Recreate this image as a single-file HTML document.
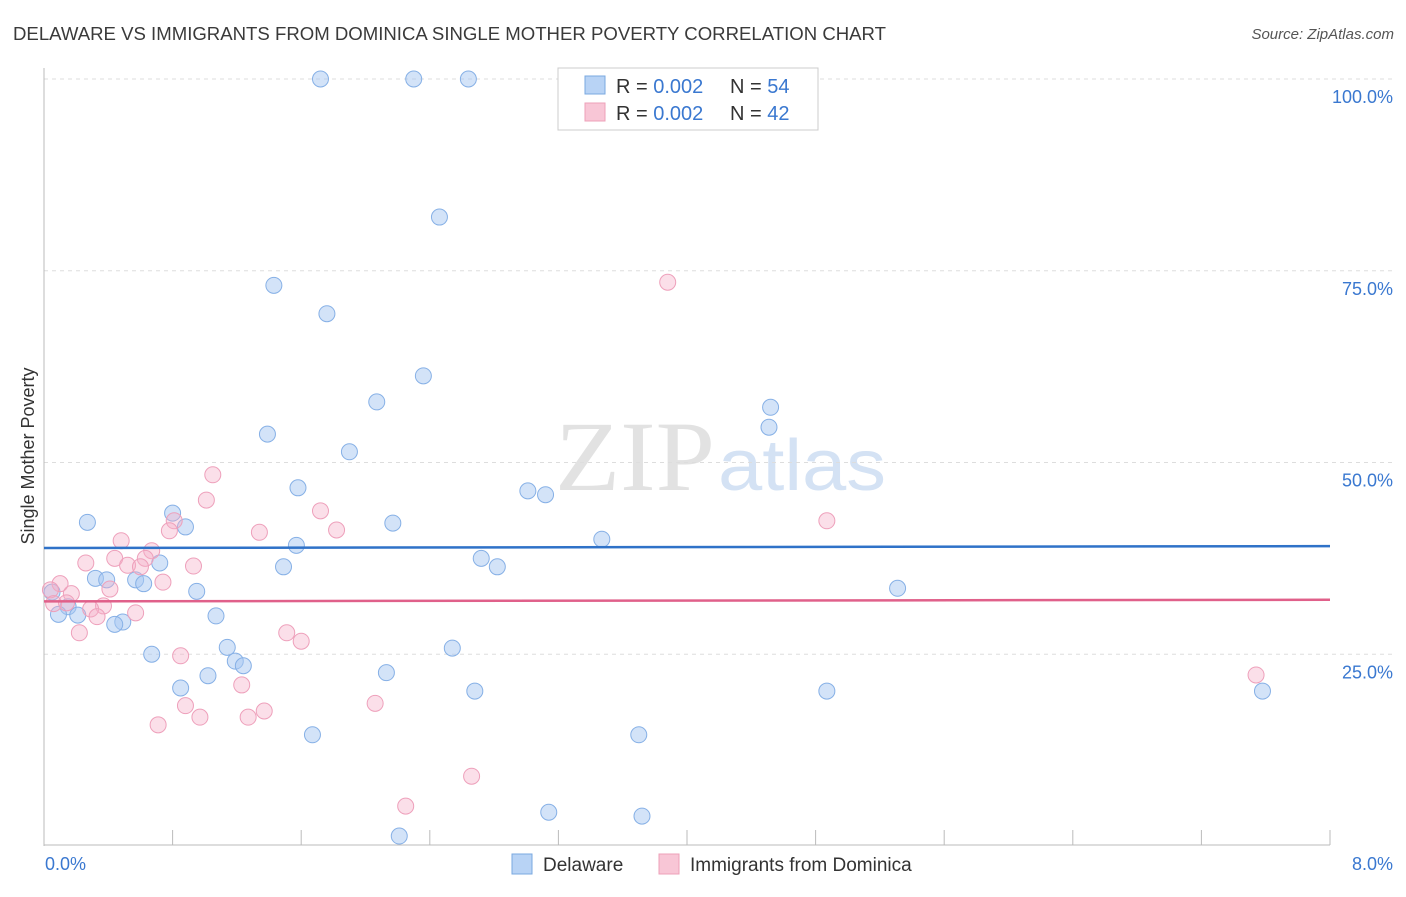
<!DOCTYPE html>
<html><head><meta charset="utf-8"><style>
body{margin:0;background:#fff;font-family:"Liberation Sans",sans-serif;}
</style></head><body>
<svg id="c" width="1406" height="892" font-family="Liberation Sans, sans-serif">
<text x="13" y="40" font-size="18" fill="#3a3a3a" textLength="873" lengthAdjust="spacingAndGlyphs">DELAWARE VS IMMIGRANTS FROM DOMINICA SINGLE MOTHER POVERTY CORRELATION CHART</text>
<text x="1394" y="39" font-size="15" fill="#555" font-style="italic" text-anchor="end">Source: ZipAtlas.com</text>
<text x="555" y="490" font-size="100" fill="#e2e2e2" style="font-family:'Liberation Serif',serif" textLength="160" lengthAdjust="spacingAndGlyphs">ZIP</text>
<text x="718" y="490" font-size="72" fill="#d4e2f4" textLength="168" lengthAdjust="spacingAndGlyphs">atlas</text>
<text transform="translate(34,456) rotate(-90)" font-size="18" fill="#333" text-anchor="middle">Single Mother Poverty</text>
<g id="grid"></g><g id="pts"></g><g id="trend"></g>
<g>
<rect x="558" y="68" width="260" height="62" fill="#fff" stroke="#ccc"/>
<rect x="585" y="76" width="20" height="18" fill="#b8d3f5" stroke="#7aa8e0"/>
<rect x="585" y="103" width="20" height="18" fill="#f8c6d6" stroke="#eea0b8"/>
<text x="616" y="93" font-size="20" fill="#333">R = <tspan fill="#3a78d0">0.002</tspan></text>
<text x="730" y="93" font-size="20" fill="#333">N = <tspan fill="#3a78d0">54</tspan></text>
<text x="616" y="120" font-size="20" fill="#333">R = <tspan fill="#3a78d0">0.002</tspan></text>
<text x="730" y="120" font-size="20" fill="#333">N = <tspan fill="#3a78d0">42</tspan></text>
</g>
<g>
<rect x="512" y="854" width="20" height="20" fill="#b8d3f5" stroke="#7aa8e0"/>
<text x="543" y="871" font-size="19" fill="#333">Delaware</text>
<rect x="659" y="854" width="20" height="20" fill="#f8c6d6" stroke="#eea0b8"/>
<text x="690" y="871" font-size="19" fill="#333">Immigrants from Dominica</text>
</g>
</svg>
<script>
const xTicks=[0,0.8,1.6,2.4,3.2,4.0,4.8,5.6,6.4,7.2,8.0];
const yTicks=[25,50,75,100];
const yTickLabels=["25.0%","50.0%","75.0%","100.0%"];
const blueX=[1.72,2.30,2.64,2.46,1.43,1.76,2.36,2.07,4.52,4.51,1.39,1.90,1.58,3.01,3.12,0.27,0.80,0.88,2.17,3.47,1.57,2.72,2.82,0.72,1.49,0.32,0.39,0.57,0.62,0.95,5.31,0.05,0.15,0.09,0.21,1.07,0.49,0.44,1.14,2.54,0.67,1.19,1.24,1.02,2.13,0.85,2.68,4.87,7.58,1.67,3.70,3.14,3.72,2.21];
const blueY=[100,100,100,82.0,73.1,69.4,61.3,57.9,57.2,54.6,53.7,51.4,46.7,46.3,45.8,42.2,43.4,41.6,42.1,40.0,39.2,37.5,36.4,36.9,36.4,34.9,34.7,34.7,34.2,33.2,33.6,33.1,31.2,30.2,30.1,30.0,29.2,28.9,25.9,25.8,25.0,24.1,23.5,22.2,22.6,20.6,20.2,20.2,20.2,14.5,14.5,4.4,3.9,1.3];
const pinkX=[3.88,1.05,1.01,1.72,4.87,0.81,1.82,1.34,0.78,0.48,0.67,0.44,0.63,0.26,0.93,0.52,0.60,0.74,0.10,0.04,0.41,0.17,0.06,0.14,0.37,0.29,0.57,0.33,0.22,1.51,1.60,0.85,1.23,2.06,0.88,1.37,0.97,1.27,0.71,7.54,2.66,2.25];
const pinkY=[73.5,48.4,45.1,43.7,42.4,42.4,41.2,40.9,41.1,39.8,38.5,37.5,37.5,36.9,36.5,36.6,36.4,34.4,34.2,33.4,33.5,32.9,31.6,31.7,31.3,30.9,30.4,29.9,27.8,27.8,26.7,24.8,21.0,18.6,18.3,17.6,16.8,16.8,15.8,22.3,9.1,5.2];
const blueTrend=[38.85,39.1];
const pinkTrend=[31.9,32.1];
const X=v=>44+v*160.75, Y=v=>846-v*7.67;
const NS="http://www.w3.org/2000/svg";
function mk(t,a,p){const e=document.createElementNS(NS,t);for(const k in a)e.setAttribute(k,a[k]);p.appendChild(e);return e;}
const grid=document.getElementById('grid');
yTicks.forEach((v,i)=>{
 const l=mk('line',{x1:44,x2:1394,y1:Y(v),y2:Y(v),stroke:'#ddd','stroke-dasharray':'4,4'},grid);
 
 
 const t=mk('text',{x:1393,y:Y(v)+24,'font-size':18,fill:'#3a78d0','text-anchor':'end'},grid);
 t.textContent=yTickLabels[i];
 
 
});
mk('line',{x1:44,x2:44,y1:68,y2:846,stroke:'#bbb'},grid);
mk('line',{x1:44,x2:1330,y1:845,y2:845,stroke:'#bbb'},grid);
xTicks.forEach(v=>{if(v>0){const l=mk('line',{x1:X(v),x2:X(v),y1:830,y2:845,stroke:'#bbb'},grid);
 
 }});
const x0=mk('text',{x:45,y:870,'font-size':18,fill:'#3a78d0'},grid);x0.textContent='0.0%';


const x1=mk('text',{x:1393,y:870,'font-size':18,fill:'#3a78d0','text-anchor':'end'},grid);x1.textContent='8.0%';


const pts=document.getElementById('pts');
function draw(xs,ys,fill,stroke,name){xs.forEach((x,i)=>{
 const c=mk('circle',{cx:X(x),cy:Y(ys[i]),r:8,fill:fill,stroke:stroke,'stroke-width':1},pts);
 
 
});}
draw(blueX,blueY,'rgba(168,200,242,0.5)','#86b0e6','delaware-point');
draw(pinkX,pinkY,'rgba(246,176,200,0.4)','#eea0bb','dominica-point');
const tr=document.getElementById('trend');
const bl=mk('line',{x1:X(0),x2:X(8),y1:Y(blueTrend[0]),y2:Y(blueTrend[1]),stroke:'#2f72c8','stroke-width':2.5},tr);


const pl=mk('line',{x1:X(0),x2:X(8),y1:Y(pinkTrend[0]),y2:Y(pinkTrend[1]),stroke:'#e0608a','stroke-width':2.5},tr);


</script>
</body></html>
